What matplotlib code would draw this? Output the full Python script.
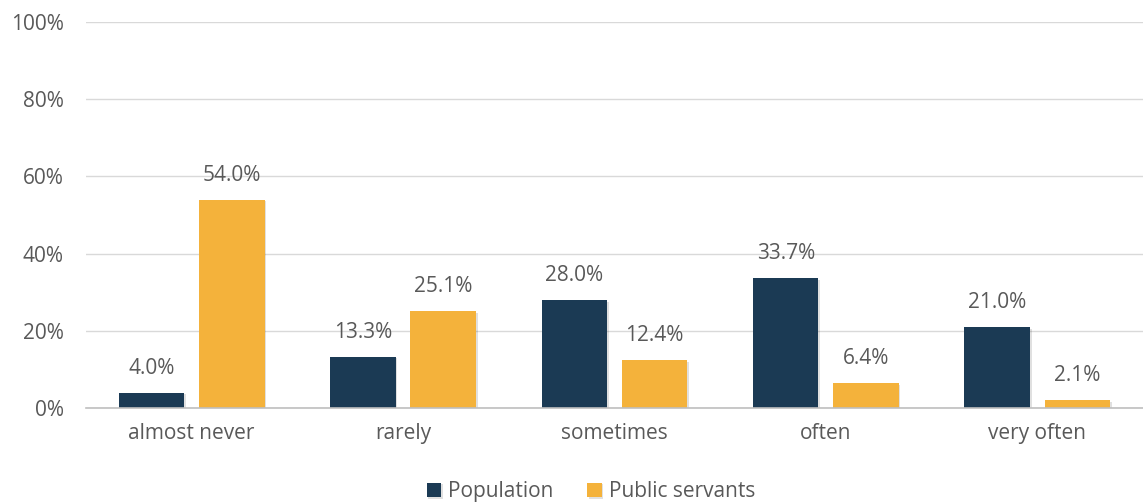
import matplotlib
matplotlib.use("Agg")
import matplotlib.pyplot as plt
import matplotlib.patheffects as pe
import numpy as np

categories = ["almost never", "rarely", "sometimes", "often", "very often"]
population = [4.0, 13.3, 28.0, 33.7, 21.0]
public_servants = [54.0, 25.1, 12.4, 6.4, 2.1]
yticks = [0, 20, 40, 60, 80, 100]

NAVY = "#1b3a54"
GOLD = "#f4b23b"
TEXT = "#595959"

plt.rcParams["font.family"] = ["Open Sans", "DejaVu Sans"]

fig = plt.figure(figsize=(11.43, 5.04), dpi=100)
ax = fig.add_axes([0.0752, 0.1905, 0.9248, 0.7659])

x = np.arange(len(categories))
w = 0.31
off = 0.19
shadow = [pe.SimplePatchShadow(offset=(1.2, -1.2), alpha=0.12, shadow_rgbFace="#000000"), pe.Normal()]
b1 = ax.bar(x - off, population, w, color=NAVY, label="Population", zorder=3)
b2 = ax.bar(x + off, public_servants, w, color=GOLD, label="Public servants", zorder=3)
for bars in (b1, b2):
    for b in bars:
        b.set_path_effects(shadow)

for bars, vals in ((b1, population), (b2, public_servants)):
    for b, v in zip(bars, vals):
        ax.annotate(f"{v:.1f}%", (b.get_x() + b.get_width() / 2, v),
                    xytext=(0, 10), textcoords="offset points",
                    ha="center", va="bottom", fontsize=15, color=TEXT)

ax.set_xlim(-0.5, len(categories) - 0.5)
ax.set_ylim(0, 100)
ax.set_yticks(yticks)
ax.set_yticklabels([f"{t}%" for t in yticks])
ax.set_xticks(x)
ax.set_xticklabels(categories)
ax.tick_params(axis="both", length=0, labelsize=15, labelcolor=TEXT)
ax.tick_params(axis="y", pad=16)
ax.tick_params(axis="x", pad=11)
ax.grid(axis="y", color="#d9d9d9", linewidth=1, zorder=0)
for s in ("top", "right", "left"):
    ax.spines[s].set_visible(False)
ax.spines["bottom"].set_color("#bfbfbf")
ax.spines["bottom"].set_linewidth(1.2)
ax.spines["bottom"].set_zorder(4)

fig.legend(handles=[b1, b2], loc="center", bbox_to_anchor=(0.517, 0.024),
           ncol=2, frameon=False, fontsize=15, labelcolor=TEXT,
           handlelength=0.7, handleheight=0.7, handletextpad=0.35, columnspacing=1.6)

fig.savefig("out.png", dpi=100)
